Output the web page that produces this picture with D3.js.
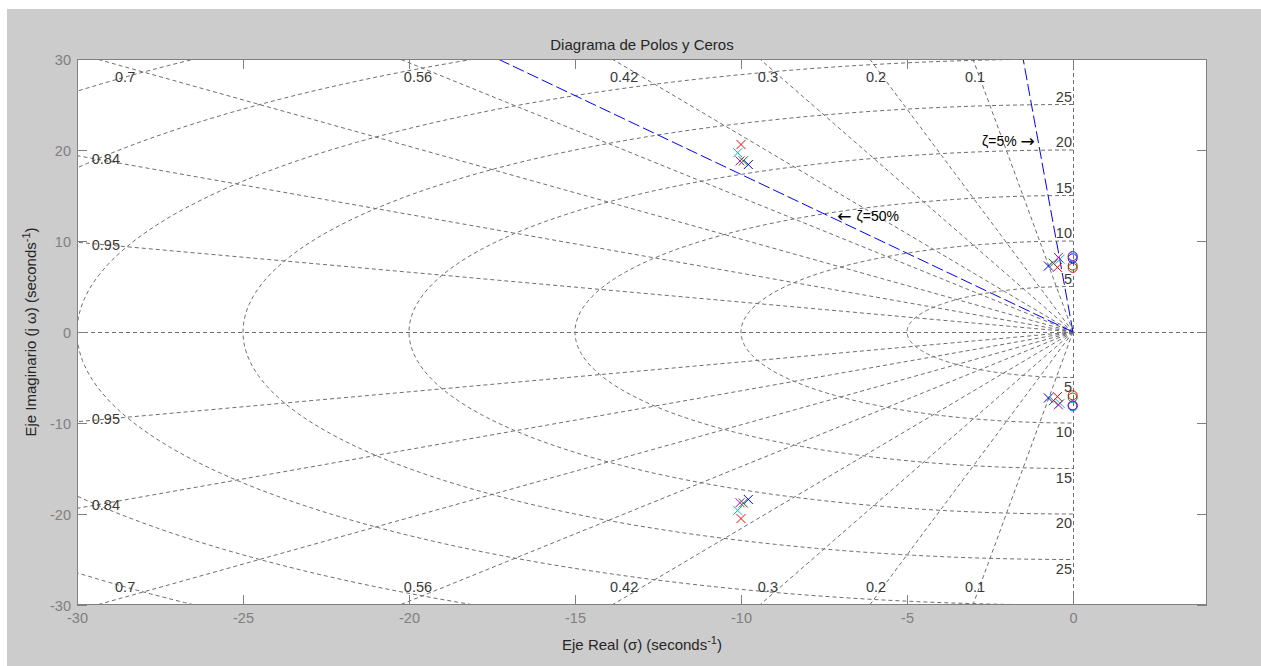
<!DOCTYPE html>
<html>
<head>
<meta charset="utf-8">
<script src="https://cdn.jsdelivr.net/npm/d3@7"></script>
<style>
  html, body { margin: 0; padding: 0; background: #ffffff; }
  svg { display: block; font-family: "Liberation Sans", Arial, Helvetica, sans-serif; }
</style>
</head>
<body>
<svg id="chart" width="1261" height="666"></svg>
<script>
// Axis ticks
const xTicks = [-30, -25, -20, -15, -10, -5, 0];
const yTicks = [-30, -20, -10, 0, 10, 20, 30];

// s-plane grid: damping ratios and natural frequencies
const zetaValues = [0.1, 0.2, 0.3, 0.42, 0.56, 0.7, 0.84, 0.95];
const zetaLabelX = [-2.95, -5.93, -9.19, -13.52, -19.73, -28.55, -29.13, -29.13];
const zetaLabelY = [28.0, 28.0, 28.0, 28.0, 28.0, 28.0, 19.0, 9.6];
const wnValues = [5, 10, 15, 20, 25, 30, 35, 40];
const wnLabels = [5, 10, 15, 20, 25];

// Design boundaries (damping 5% and 50%)
const boundaryZeta = [0.05, 0.5];

// Poles and zeros of each system [real, imag]
const polesBlue    = [[-9.78, 18.4], [-9.78, -18.4], [-0.74, 7.25], [-0.74, -7.25]];
const zerosBlue    = [[-0.01, 8.1], [-0.01, -8.1]];
const polesGreen   = [[-9.93, 18.8], [-9.93, -18.8], [-0.59, 7.55], [-0.59, -7.55]];
const zerosGreen   = [[-0.01, 7.3], [-0.01, -7.2]];
const polesRed     = [[-10.0, 20.6], [-10.0, -20.5], [-0.47, 7.1], [-0.47, -7.1]];
const zerosRed     = [[-0.01, 7.05], [-0.01, -6.95]];
const polesCyan    = [[-10.1, 19.7], [-10.1, -19.6], [-0.39, 8.0], [-0.39, -7.85]];
const zerosCyan    = [[-0.01, 8.3], [-0.01, -8.2]];
const polesMagenta = [[-10.03, 18.8], [-10.03, -18.76], [-0.44, 8.2], [-0.44, -8.0]];
const zerosMagenta = [[-0.01, 8.35], [-0.01, -8.05]];

const colors = ["#0000ff", "#008000", "#ff0000", "#00bfbf", "#bf00bf"];
const systems = [
  { poles: polesBlue, zeros: zerosBlue },
  { poles: polesGreen, zeros: zerosGreen },
  { poles: polesRed, zeros: zerosRed },
  { poles: polesCyan, zeros: zerosCyan },
  { poles: polesMagenta, zeros: zerosMagenta }
];

const svg = d3.select("#chart");

// Figure background
svg.append("rect").attr("x", 7).attr("y", 9).attr("width", 1254).attr("height", 657).attr("fill", "#cccccc");

const L = 77, R = 1207, T = 59, B = 605;
const x = d3.scaleLinear().domain([-30, 4.036]).range([L, R]);
const y = d3.scaleLinear().domain([-30, 30]).range([B, T]);

svg.append("rect").attr("x", L).attr("y", T).attr("width", R - L).attr("height", B - T).attr("fill", "#ffffff");

svg.append("clipPath").attr("id", "plotClip")
  .append("rect").attr("x", L).attr("y", T).attr("width", R - L).attr("height", B - T);

const plot = svg.append("g").attr("clip-path", "url(#plotClip)");
const gridColor = "#6e6e6e";
const gridDash = "4,3";

// Constant-damping rays
zetaValues.forEach(z => {
  const s = Math.sqrt(1 - z * z);
  [1, -1].forEach(sg => {
    plot.append("line")
      .attr("x1", x(0)).attr("y1", y(0))
      .attr("x2", x(-z * 80)).attr("y2", y(sg * s * 80))
      .attr("stroke", gridColor).attr("stroke-width", 1).attr("stroke-dasharray", gridDash);
  });
});
// Real and imaginary axes
plot.append("line").attr("x1", L).attr("x2", R).attr("y1", y(0) + 0.5).attr("y2", y(0) + 0.5)
  .attr("stroke", gridColor).attr("stroke-dasharray", gridDash);
plot.append("line").attr("x1", x(0) + 0.5).attr("x2", x(0) + 0.5).attr("y1", T).attr("y2", B)
  .attr("stroke", gridColor).attr("stroke-dasharray", gridDash);

// Constant natural-frequency arcs (left half plane)
const arcLine = d3.line().x(d => x(d[0])).y(d => y(d[1]));
wnValues.forEach(w => {
  const pts = d3.range(0, 181).map(i => {
    const th = Math.PI / 2 + i * Math.PI / 180;
    return [w * Math.cos(th), w * Math.sin(th)];
  });
  plot.append("path").attr("d", arcLine(pts))
    .attr("fill", "none").attr("stroke", gridColor).attr("stroke-dasharray", gridDash);
});

// Damping labels
const labelColor = "#3a3a3a";
zetaValues.forEach((z, i) => {
  [1, -1].forEach(sg => {
    plot.append("text")
      .attr("x", x(zetaLabelX[i])).attr("y", y(sg * zetaLabelY[i]))
      .attr("text-anchor", "middle").attr("dominant-baseline", "central")
      .attr("font-size", 14.5).attr("fill", labelColor)
      .text(String(z));
  });
});
// Frequency labels
wnLabels.forEach(w => {
  plot.append("text").attr("x", x(0) - 1).attr("y", y(w) - 8)
    .attr("text-anchor", "end").attr("dominant-baseline", "central")
    .attr("font-size", 14.5).attr("fill", labelColor).text(String(w));
  plot.append("text").attr("x", x(0) - 1).attr("y", y(-w) + 9)
    .attr("text-anchor", "end").attr("dominant-baseline", "central")
    .attr("font-size", 14.5).attr("fill", labelColor).text(String(w));
});

// Damping boundaries
boundaryZeta.forEach(z => {
  const s = Math.sqrt(1 - z * z);
  const r = 30 / s;
  plot.append("line")
    .attr("x1", x(0)).attr("y1", y(0))
    .attr("x2", x(-z * r)).attr("y2", y(30))
    .attr("stroke", "#0000ff").attr("stroke-width", 1).attr("stroke-dasharray", "12,4");
});
const a50 = plot.append("text").attr("x", x(-7.1)).attr("y", y(12.7))
  .attr("dominant-baseline", "central").attr("font-size", 14).attr("fill", "#000");
a50.append("tspan").attr("font-family", "'DejaVu Sans', sans-serif").attr("font-size", 17).text("\u2190");
a50.append("tspan").attr("dx", 5).text("\u03b6=50%");
const a5 = plot.append("text").attr("x", x(-2.74)).attr("y", y(21.0))
  .attr("dominant-baseline", "central").attr("font-size", 14).attr("fill", "#000");
a5.append("tspan").text("\u03b6=5% ");
a5.append("tspan").attr("font-family", "'DejaVu Sans', sans-serif").attr("font-size", 17).text("\u2192");

// Poles (x) and zeros (o)
const mk = 4.5;
systems.forEach((sys, i) => {
  const g = plot.append("g").attr("stroke", colors[i]).attr("fill", "none").attr("stroke-width", 1);
  g.selectAll("path.pole").data(sys.poles).enter().append("path").attr("class", "pole")
    .attr("d", d => {
      const cx = x(d[0]), cy = y(d[1]);
      return `M${cx - mk},${cy - mk}L${cx + mk},${cy + mk}M${cx - mk},${cy + mk}L${cx + mk},${cy - mk}`;
    });
  g.selectAll("circle.zero").data(sys.zeros).enter().append("circle").attr("class", "zero")
    .attr("cx", d => x(d[0])).attr("cy", d => y(d[1])).attr("r", 4.5);
});

// Axes
const tickColor = "#808080";
const fmt = d => String(d);
const axB = svg.append("g").attr("transform", `translate(0,${B})`)
  .call(d3.axisBottom(x).tickValues(xTicks).tickFormat(fmt).tickSizeInner(-10).tickSizeOuter(0).tickPadding(8));
const axL = svg.append("g").attr("transform", `translate(${L},0)`)
  .call(d3.axisLeft(y).tickValues(yTicks).tickFormat(fmt).tickSizeInner(-10).tickSizeOuter(0).tickPadding(6));
const axT = svg.append("g").attr("transform", `translate(0,${T})`)
  .call(d3.axisTop(x).tickValues(xTicks).tickFormat("").tickSizeInner(-10).tickSizeOuter(0));
const axR = svg.append("g").attr("transform", `translate(${R},0)`)
  .call(d3.axisRight(y).tickValues(yTicks).tickFormat("").tickSizeInner(-10).tickSizeOuter(0));
[axB, axL, axT, axR].forEach(a => {
  a.select(".domain").remove();
  a.selectAll("line").attr("stroke", tickColor);
  a.selectAll("text").attr("fill", tickColor).attr("font-size", 14.5)
    .attr("font-family", "'Liberation Sans', Arial, sans-serif");
});
axL.selectAll("text").attr("dy", "0.35em");

// Axes box
svg.append("rect").attr("x", L + 0.5).attr("y", T + 0.5).attr("width", R - L - 1).attr("height", B - T - 1)
  .attr("fill", "none").attr("stroke", tickColor).attr("stroke-width", 1);

// Title and axis labels
const titleColor = "#262626";
svg.append("text").attr("x", (L + R) / 2).attr("y", 44)
  .attr("text-anchor", "middle").attr("dominant-baseline", "central")
  .attr("font-size", 15).attr("fill", titleColor).text("Diagrama de Polos y Ceros");

const xl = svg.append("text").attr("x", (L + R) / 2).attr("y", 650)
  .attr("text-anchor", "middle").attr("font-size", 15).attr("fill", titleColor);
xl.append("tspan").text("Eje Real (\u03c3) (seconds");
xl.append("tspan").attr("dy", -6).attr("font-size", 11).text("-1");
xl.append("tspan").attr("dy", 6).text(")");

const yl = svg.append("text").attr("transform", `translate(36,${(T + B) / 2}) rotate(-90)`)
  .attr("text-anchor", "middle").attr("font-size", 15).attr("fill", titleColor);
yl.append("tspan").text("Eje Imaginario (j \u03c9) (seconds");
yl.append("tspan").attr("dy", -6).attr("font-size", 11).text("-1");
yl.append("tspan").attr("dy", 6).text(")");
</script>
</body>
</html>
